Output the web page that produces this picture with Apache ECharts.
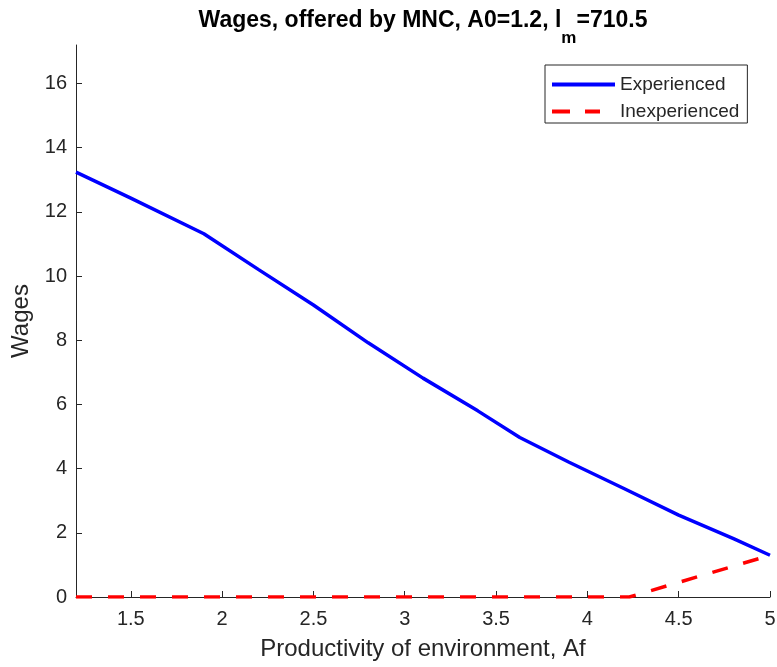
<!DOCTYPE html>
<html>
<head>
<meta charset="utf-8">
<script src="https://cdn.jsdelivr.net/npm/echarts@6/dist/echarts.min.js"></script>
<style>
  html, body { margin: 0; padding: 0; background: #fff; }
  #chart { width: 777px; height: 667px; }
</style>
</head>
<body>
<div id="chart"></div>
<script>
// Wage offered to experienced workers vs. productivity Af
const expAf    = [1.2, 1.5, 1.9, 2.2, 2.5, 2.8, 3.1, 3.4, 3.63, 3.9, 4.2, 4.5, 4.8, 5.0];
const expWage  = [13.24, 12.43, 11.32, 10.2, 9.1, 7.92, 6.82, 5.8, 4.97, 4.2, 3.38, 2.55, 1.82, 1.3];

// Wage offered to inexperienced workers
const inexpAf   = [1.2, 4.23, 5.0];
const inexpWage = [0, 0, 1.3];

// Axis ticks
const xTicks = [1.5, 2, 2.5, 3, 3.5, 4, 4.5, 5];
const yTicks = [0, 2, 4, 6, 8, 10, 12, 14, 16];

const FONT = '"Liberation Sans", Arial, Helvetica, sans-serif';
const AXIS = '#262626';

// legend glyphs: a solid stroke and a two-dash stroke
const SOLID_ICON  = 'path://M0,0H63V4H0Z';
const DASHED_ICON = 'path://M0,0H18V4H0ZM33,0H48V4H33ZM63,0L63,4';

const pairs = (xs, ys) => xs.map((x, i) => [x, ys[i]]);

const chart = echarts.init(document.getElementById('chart'), null, { renderer: 'canvas' });

chart.setOption({
  animation: false,
  backgroundColor: '#ffffff',
  title: {
    left: 423,
    textAlign: 'center',
    top: 9,
    padding: 0,
    text: '{a|Wages, offered by MNC, A0=1.2, l}{s|m}{a|=710.5}',
    textStyle: {
      rich: {
        a: { fontFamily: FONT, fontWeight: 'bold', fontSize: 23, color: '#000', lineHeight: 24, verticalAlign: 'top' },
        s: { fontFamily: FONT, fontWeight: 'bold', fontSize: 17, color: '#000', lineHeight: 38, verticalAlign: 'bottom' }
      }
    }
  },
  grid: { left: 76, right: 7, top: 45, bottom: 70, containLabel: false, outerBoundsMode: 'none' },
  legend: {
    orient: 'vertical',
    left: 545,
    top: 65,
    padding: [10, 8, 2, 7],
    itemGap: 8,
    itemWidth: 63,
    itemHeight: 4,
    borderColor: AXIS,
    borderWidth: 1,
    borderRadius: 0,
    backgroundColor: '#ffffff',
    textStyle: { fontFamily: FONT, fontSize: 19, color: AXIS },
    data: [
      { name: 'Experienced', icon: SOLID_ICON },
      { name: 'Inexperienced', icon: DASHED_ICON }
    ]
  },
  xAxis: {
    type: 'value',
    min: 1.2,
    max: 5,
    name: 'Productivity of environment, Af',
    nameLocation: 'middle',
    nameGap: 40,
    nameTextStyle: { fontFamily: FONT, fontSize: 24, color: AXIS },
    axisLine: { show: true, onZero: false, lineStyle: { color: AXIS, width: 1 } },
    axisTick: { show: true, inside: true, length: 6, customValues: xTicks, lineStyle: { color: AXIS } },
    axisLabel: { customValues: xTicks, margin: 12, fontFamily: FONT, fontSize: 20, color: AXIS },
    splitLine: { show: false }
  },
  yAxis: {
    type: 'value',
    min: 0,
    max: 17.2,
    name: 'Wages',
    nameLocation: 'middle',
    nameGap: 43,
    nameTextStyle: { fontFamily: FONT, fontSize: 24, color: AXIS },
    axisLine: { show: true, onZero: false, lineStyle: { color: AXIS, width: 1 } },
    axisTick: { show: true, inside: true, length: 6, customValues: yTicks, lineStyle: { color: AXIS } },
    axisLabel: { customValues: yTicks, margin: 9, fontFamily: FONT, fontSize: 20, color: AXIS },
    splitLine: { show: false }
  },
  series: [
    {
      name: 'Experienced',
      type: 'line',
      data: pairs(expAf, expWage),
      symbol: 'none',
      lineStyle: { color: '#0000ff', width: 3.5 },
      itemStyle: { color: '#0000ff' },
      z: 3
    },
    {
      name: 'Inexperienced',
      type: 'line',
      data: pairs(inexpAf, inexpWage),
      symbol: 'none',
      lineStyle: { color: '#ff0000', width: 3.5, type: [16, 16] },
      itemStyle: { color: '#ff0000' },
      z: 4
    }
  ]
});
</script>
</body>
</html>
